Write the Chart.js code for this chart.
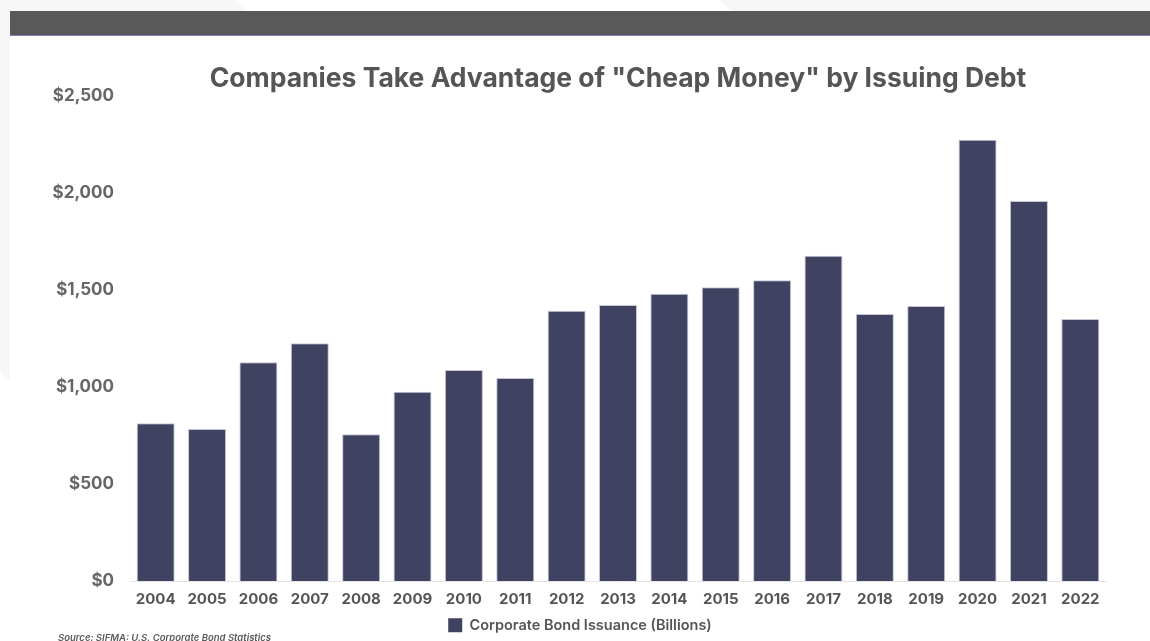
<!DOCTYPE html>
<html>
<head>
<meta charset="utf-8">
<script src="https://cdn.jsdelivr.net/npm/chart.js@4"></script>
<style>
  html, body { margin: 0; padding: 0; }
  body { width: 1150px; height: 641px; position: relative; overflow: hidden; background: #f7f7f7; font-family: Inter, "Noto Sans", sans-serif; }
  .glare { position: absolute; left: 0; top: 0; width: 1150px; height: 641px; background: #ffffff; clip-path: polygon(235px 0, 720px 0, 740px 20px, 255px 20px); }
  .glare2 { position: absolute; left: 0; top: 0; width: 1150px; height: 641px; background: #ffffff; clip-path: polygon(0 372px, 10px 382px, 10px 641px, 0 641px); }
  .card { position: absolute; left: 10px; top: 11px; right: 0; bottom: 0; background: #ffffff; }
  .band { position: absolute; left: 10px; top: 11px; right: 0; height: 24px; background: #595959; border-bottom: 1px solid #7c80b8; }
  #wrap { position: absolute; left: 10px; top: 36px; width: 1140px; height: 610px; }
</style>
</head>
<body>
<div class="glare"></div>
<div class="glare2"></div>
<div class="card"></div>
<div class="band"></div>
<div id="wrap"><canvas id="chart"></canvas></div>
<script>
// Annual U.S. corporate bond issuance, $ billions
const years = ['2004','2005','2006','2007','2008','2009','2010','2011','2012','2013',
               '2014','2015','2016','2017','2018','2019','2020','2021','2022'];
const issuance = [813, 783, 1128, 1226, 757, 975, 1087, 1047, 1393, 1423,
                  1481, 1514, 1550, 1676, 1376, 1418, 2274, 1959, 1351];
const yTicks = [0, 500, 1000, 1500, 2000, 2500];

const chartTitle = 'Companies Take Advantage of "Cheap Money" by Issuing Debt';
const seriesName = 'Corporate Bond Issuance (Billions)';
const sourceNote = 'Source: SIFMA: U.S. Corporate Bond Statistics';

const FONT = 'Inter, "Noto Sans", sans-serif';

// Title centred over the plot area, source note in the lower left corner
const annotations = {
  id: 'annotations',
  afterDraw(chart) {
    const { ctx, chartArea } = chart;
    ctx.save();
    ctx.fillStyle = '#555555';
    ctx.font = `bold 26.5px ${FONT}`;
    ctx.textAlign = 'center';
    ctx.textBaseline = 'middle';
    ctx.fillText(chartTitle, (chartArea.left + chartArea.right) / 2, 43.5);
    ctx.font = `italic 600 9.5px ${FONT}`;
    ctx.fillStyle = '#5a5a5a';
    ctx.textAlign = 'left';
    ctx.fillText(sourceNote, 48, 602.5);
    ctx.restore();
  }
};

new Chart(document.getElementById('chart'), {
  type: 'bar',
  data: {
    labels: years,
    datasets: [{
      label: seriesName,
      data: issuance,
      backgroundColor: '#3f4361',
      borderColor: '#c3c5d6',
      borderWidth: 1,
      barPercentage: 0.74,
      categoryPercentage: 1.0
    }]
  },
  options: {
    responsive: true,
    maintainAspectRatio: false,
    animation: false,
    layout: { padding: { top: 60, right: 0, left: 0, bottom: 3.5 } },
    plugins: {
      title: { display: false },
      tooltip: { enabled: false },
      legend: {
        position: 'bottom',
        labels: {
          boxWidth: 14,
          boxHeight: 14,
          padding: 6,
          color: '#555555',
          font: { family: FONT, size: 14.5, weight: '600' },
          generateLabels(chart) {
            const ds = chart.data.datasets[0];
            return [{
              text: ds.label,
              fillStyle: ds.backgroundColor,
              strokeStyle: ds.backgroundColor,
              lineWidth: 0,
              datasetIndex: 0,
              fontColor: '#555555'
            }];
          }
        }
      }
    },
    scales: {
      x: {
        grid: { display: false, drawTicks: false },
        border: { display: true, color: '#e4e4e4', width: 1 },
        ticks: {
          padding: 9.5,
          color: '#555555',
          font: { family: FONT, size: 15, weight: 'bold' },
          maxRotation: 0
        },
        afterFit(scale) { scale.height = 31; }
      },
      y: {
        min: 0,
        max: 2500,
        grid: { display: false, drawTicks: false },
        border: { display: false },
        afterBuildTicks(scale) { scale.ticks = yTicks.map(v => ({ value: v })); },
        ticks: {
          padding: 16,
          color: '#666666',
          font: { family: FONT, size: 17, weight: 'bold' },
          callback: v => '$' + Number(v).toLocaleString('en-US')
        },
        afterFit(scale) { scale.width = 120; }
      },
      // blank right-hand margin beside the plot
      yRight: {
        position: 'right',
        min: 0,
        max: 2500,
        grid: { display: false, drawTicks: false },
        border: { display: false },
        ticks: { display: false },
        afterFit(scale) { scale.width = 44; }
      }
    }
  },
  plugins: [annotations]
});
</script>
</body>
</html>
